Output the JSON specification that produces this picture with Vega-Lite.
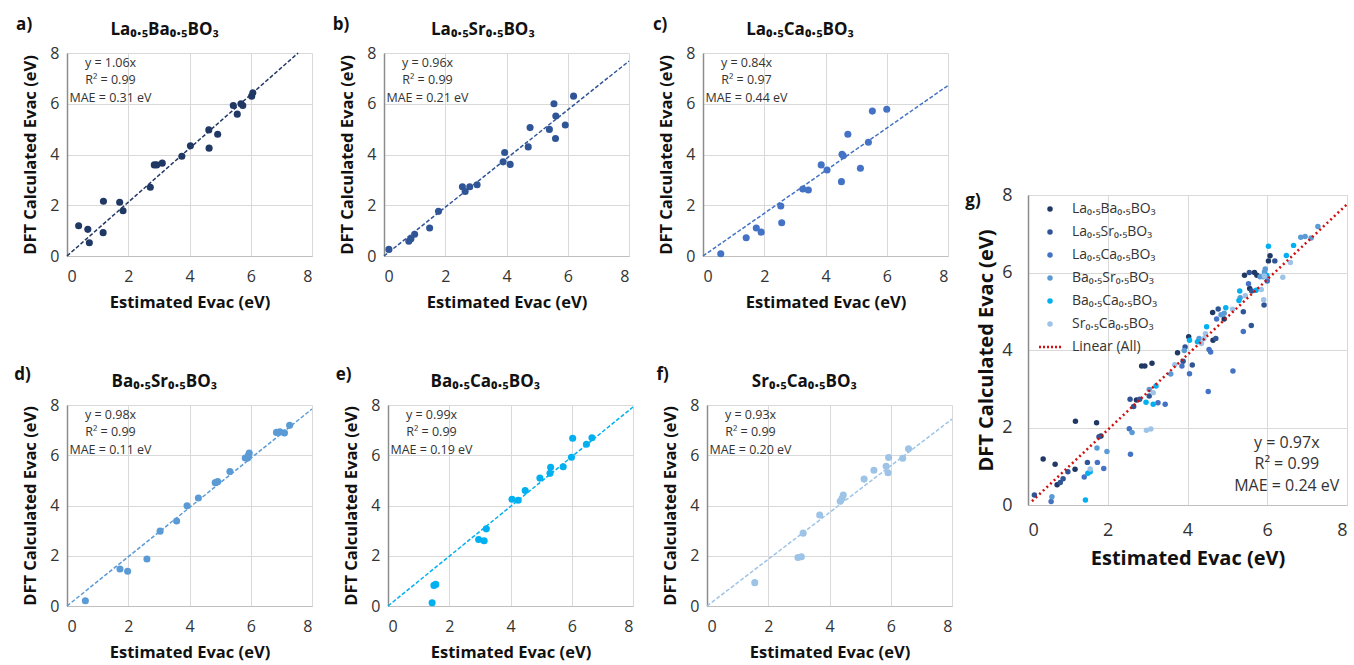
{
  "$schema": "https://vega.github.io/schema/vega-lite/v6.json",
  "background": "white",
  "padding": {"left": 14, "top": 16, "right": 0, "bottom": 0},
  "datasets": {
    "pts": [
      {"k":"a","x":0.38,"y":1.19},{"k":"a","x":0.68,"y":1.05},{"k":"a","x":0.73,"y":0.52},{"k":"a","x":1.19,"y":2.16},{"k":"a","x":1.18,"y":0.92},{"k":"a","x":1.72,"y":2.12},{"k":"a","x":1.83,"y":1.78},{"k":"a","x":2.72,"y":2.71},{"k":"a","x":2.85,"y":3.59},{"k":"a","x":2.93,"y":3.59},{"k":"a","x":3.11,"y":3.66},{"k":"a","x":3.75,"y":3.93},{"k":"a","x":4.03,"y":4.34},{"k":"a","x":4.63,"y":4.97},{"k":"a","x":4.64,"y":4.25},{"k":"a","x":4.92,"y":4.8},{"k":"a","x":5.43,"y":5.93},{"k":"a","x":5.56,"y":5.59},{"k":"a","x":5.68,"y":6.0},{"k":"a","x":5.74,"y":5.93},{"k":"a","x":6.03,"y":6.3},{"k":"a","x":6.07,"y":6.43},
      {"k":"b","x":0.16,"y":0.26},{"k":"b","x":0.81,"y":0.58},{"k":"b","x":0.88,"y":0.68},{"k":"b","x":1.0,"y":0.86},{"k":"b","x":1.49,"y":1.1},{"k":"b","x":1.78,"y":1.76},{"k":"b","x":2.56,"y":2.73},{"k":"b","x":2.65,"y":2.54},{"k":"b","x":2.8,"y":2.73},{"k":"b","x":3.04,"y":2.81},{"k":"b","x":3.89,"y":3.71},{"k":"b","x":3.94,"y":4.08},{"k":"b","x":4.12,"y":3.61},{"k":"b","x":4.71,"y":4.3},{"k":"b","x":4.77,"y":5.06},{"k":"b","x":5.4,"y":4.99},{"k":"b","x":5.55,"y":6.0},{"k":"b","x":5.61,"y":5.52},{"k":"b","x":5.6,"y":4.63},{"k":"b","x":5.92,"y":5.16},{"k":"b","x":6.19,"y":6.3},
      {"k":"c","x":0.58,"y":0.09},{"k":"c","x":1.41,"y":0.72},{"k":"c","x":1.74,"y":1.1},{"k":"c","x":1.9,"y":0.94},{"k":"c","x":2.54,"y":1.97},{"k":"c","x":2.57,"y":1.31},{"k":"c","x":3.26,"y":2.64},{"k":"c","x":3.44,"y":2.6},{"k":"c","x":3.86,"y":3.59},{"k":"c","x":4.05,"y":3.39},{"k":"c","x":4.52,"y":2.93},{"k":"c","x":4.54,"y":4.01},{"k":"c","x":4.58,"y":3.95},{"k":"c","x":4.73,"y":4.8},{"k":"c","x":5.14,"y":3.46},{"k":"c","x":5.4,"y":4.48},{"k":"c","x":5.53,"y":5.71},{"k":"c","x":6.0,"y":5.78},
      {"k":"d","x":0.6,"y":0.21},{"k":"d","x":1.73,"y":1.47},{"k":"d","x":1.98,"y":1.38},{"k":"d","x":2.61,"y":1.87},{"k":"d","x":3.04,"y":2.98},{"k":"d","x":3.58,"y":3.38},{"k":"d","x":3.92,"y":3.99},{"k":"d","x":4.29,"y":4.3},{"k":"d","x":4.84,"y":4.91},{"k":"d","x":4.92,"y":4.95},{"k":"d","x":5.32,"y":5.35},{"k":"d","x":5.82,"y":5.89},{"k":"d","x":5.9,"y":5.89},{"k":"d","x":5.93,"y":6.01},{"k":"d","x":5.95,"y":6.09},{"k":"d","x":6.84,"y":6.91},{"k":"d","x":6.95,"y":6.93},{"k":"d","x":7.1,"y":6.89},{"k":"d","x":7.27,"y":7.19},
      {"k":"e","x":1.44,"y":0.13},{"k":"e","x":1.5,"y":0.82},{"k":"e","x":1.56,"y":0.86},{"k":"e","x":2.96,"y":2.65},{"k":"e","x":3.14,"y":2.6},{"k":"e","x":3.21,"y":3.07},{"k":"e","x":4.05,"y":4.25},{"k":"e","x":4.25,"y":4.21},{"k":"e","x":4.48,"y":4.6},{"k":"e","x":4.96,"y":5.09},{"k":"e","x":5.29,"y":5.28},{"k":"e","x":5.31,"y":5.52},{"k":"e","x":5.72,"y":5.54},{"k":"e","x":5.99,"y":5.92},{"k":"e","x":6.03,"y":6.68},{"k":"e","x":6.48,"y":6.44},{"k":"e","x":6.66,"y":6.7},
      {"k":"f","x":1.56,"y":0.93},{"k":"f","x":2.97,"y":1.93},{"k":"f","x":3.08,"y":1.96},{"k":"f","x":3.14,"y":2.9},{"k":"f","x":3.68,"y":3.62},{"k":"f","x":4.35,"y":4.17},{"k":"f","x":4.41,"y":4.29},{"k":"f","x":4.45,"y":4.42},{"k":"f","x":5.13,"y":5.05},{"k":"f","x":5.45,"y":5.4},{"k":"f","x":5.85,"y":5.56},{"k":"f","x":5.91,"y":5.3},{"k":"f","x":5.93,"y":5.91},{"k":"f","x":6.39,"y":5.88},{"k":"f","x":6.58,"y":6.26}
    ],
    "lines": [
      {"k":"a","x":0,"y":0},{"k":"a","x":7.547,"y":8},
      {"k":"b","x":0,"y":0},{"k":"b","x":8,"y":7.68},
      {"k":"c","x":0,"y":0},{"k":"c","x":8,"y":6.72},
      {"k":"d","x":0,"y":0},{"k":"d","x":8,"y":7.84},
      {"k":"e","x":0,"y":0},{"k":"e","x":8,"y":7.92},
      {"k":"f","x":0,"y":0},{"k":"f","x":8,"y":7.44},
      {"k":"z","x":0.1,"y":0.097},{"k":"z","x":8,"y":7.76}
    ],
    "notes": [
      {"k":"a","x":1.42,"y":7.6,"t":"y = 1.06x"},{"k":"a","x":1.42,"y":6.92,"t":"R² = 0.99"},{"k":"a","x":1.42,"y":6.22,"t":"MAE = 0.31 eV"},
      {"k":"b","x":1.42,"y":7.6,"t":"y = 0.96x"},{"k":"b","x":1.42,"y":6.92,"t":"R² = 0.99"},{"k":"b","x":1.42,"y":6.22,"t":"MAE = 0.21 eV"},
      {"k":"c","x":1.42,"y":7.6,"t":"y = 0.84x"},{"k":"c","x":1.42,"y":6.92,"t":"R² = 0.97"},{"k":"c","x":1.42,"y":6.22,"t":"MAE = 0.44 eV"},
      {"k":"d","x":1.42,"y":7.6,"t":"y = 0.98x"},{"k":"d","x":1.42,"y":6.92,"t":"R² = 0.99"},{"k":"d","x":1.42,"y":6.22,"t":"MAE = 0.11 eV"},
      {"k":"e","x":1.42,"y":7.6,"t":"y = 0.99x"},{"k":"e","x":1.42,"y":6.92,"t":"R² = 0.99"},{"k":"e","x":1.42,"y":6.22,"t":"MAE = 0.19 eV"},
      {"k":"f","x":1.42,"y":7.6,"t":"y = 0.93x"},{"k":"f","x":1.42,"y":6.92,"t":"R² = 0.99"},{"k":"f","x":1.42,"y":6.22,"t":"MAE = 0.20 eV"},
      {"k":"g","x":6.49,"y":1.6,"t":"y = 0.97x"},{"k":"g","x":6.49,"y":1.06,"t":"R² = 0.99"},{"k":"g","x":6.49,"y":0.49,"t":"MAE = 0.24 eV"}
    ],
    "heads": [
      {"k":"a","x":-1.4,"y":9.1,"t":"a)"},{"k":"a","x":3.19,"y":8.9,"t":"La₀.₅Ba₀.₅BO₃"},
      {"k":"b","x":-1.4,"y":9.1,"t":"b)"},{"k":"b","x":3.23,"y":8.9,"t":"La₀.₅Sr₀.₅BO₃"},
      {"k":"c","x":-1.4,"y":9.1,"t":"c)"},{"k":"c","x":3.17,"y":8.9,"t":"La₀.₅Ca₀.₅BO₃"},
      {"k":"d","x":-1.45,"y":9.2,"t":"d)"},{"k":"d","x":3.18,"y":8.92,"t":"Ba₀.₅Sr₀.₅BO₃"},
      {"k":"e","x":-1.45,"y":9.2,"t":"e)"},{"k":"e","x":3.18,"y":8.92,"t":"Ba₀.₅Ca₀.₅BO₃"},
      {"k":"f","x":-1.45,"y":9.2,"t":"f)"},{"k":"f","x":3.18,"y":8.92,"t":"Sr₀.₅Ca₀.₅BO₃"},
      {"k":"g","x":-1.38,"y":7.85,"t":"g)"}
    ]
  },
  "config": {
    "font": "Open Sans",
    "view": {"stroke": null},
    "axis": {"grid": true, "gridColor": "#D9D9D9", "gridWidth": 1, "ticks": false, "labelFontSize": 16, "labelColor": "#333333", "titleFontSize": 16.5, "titleFontWeight": "bold", "titleColor": "#111111", "domainColor": "#BFBFBF"},
    "axisX": {"labelPadding": 12, "titlePadding": 10},
    "axisY": {"domainColor": "#8C8C8C", "domainWidth": 1.5, "labelPadding": 8, "titlePadding": 11}
  },
  "resolve": {"scale": {"color": "independent"}, "legend": {"color": "independent"}},
  "spacing": 10,
  "hconcat": [
    {
      "spacing": 54,
      "vconcat": [
        {
          "spacing": 20,
          "hconcat": [
            {"width": 245, "height": 203, "layer": [
              {"data": {"name": "lines"}, "transform": [{"filter": "datum.k=='a'"}], "mark": {"type": "line", "color": "#203864", "strokeDash": [4,2], "strokeWidth": 1.5}, "encoding": {"x": {"field": "x", "type": "quantitative", "scale": {"domain": [0,8], "nice": false}, "title": "Estimated Evac (eV)", "axis": {"values": [0,2,4,6,8]}}, "y": {"field": "y", "type": "quantitative", "scale": {"domain": [0,8], "nice": false}, "title": "DFT Calculated Evac (eV)", "axis": {"values": [0,2,4,6,8]}}}},
              {"data": {"name": "pts"}, "transform": [{"filter": "datum.k=='a'"}], "mark": {"type": "circle", "color": "#203864", "size": 50, "opacity": 1}, "encoding": {"x": {"field": "x", "type": "quantitative"}, "y": {"field": "y", "type": "quantitative"}}},
              {"data": {"name": "notes"}, "transform": [{"filter": "datum.k=='a'"}], "mark": {"type": "text", "fontSize": 12.5, "color": "#333333"}, "encoding": {"x": {"field": "x", "type": "quantitative"}, "y": {"field": "y", "type": "quantitative"}, "text": {"field": "t"}}},
              {"data": {"name": "heads"}, "transform": [{"filter": "datum.k=='a'"}], "mark": {"type": "text", "fontSize": 17, "fontWeight": "bold", "color": "#111111"}, "encoding": {"x": {"field": "x", "type": "quantitative"}, "y": {"field": "y", "type": "quantitative"}, "text": {"field": "t"}}}
            ]},
            {"width": 245, "height": 203, "layer": [
              {"data": {"name": "lines"}, "transform": [{"filter": "datum.k=='b'"}], "mark": {"type": "line", "color": "#2F5597", "strokeDash": [4,2], "strokeWidth": 1.5}, "encoding": {"x": {"field": "x", "type": "quantitative", "scale": {"domain": [0,8], "nice": false}, "title": "Estimated Evac (eV)", "axis": {"values": [0,2,4,6,8]}}, "y": {"field": "y", "type": "quantitative", "scale": {"domain": [0,8], "nice": false}, "title": "DFT Calculated Evac (eV)", "axis": {"values": [0,2,4,6,8]}}}},
              {"data": {"name": "pts"}, "transform": [{"filter": "datum.k=='b'"}], "mark": {"type": "circle", "color": "#2F5597", "size": 50, "opacity": 1}, "encoding": {"x": {"field": "x", "type": "quantitative"}, "y": {"field": "y", "type": "quantitative"}}},
              {"data": {"name": "notes"}, "transform": [{"filter": "datum.k=='b'"}], "mark": {"type": "text", "fontSize": 12.5, "color": "#333333"}, "encoding": {"x": {"field": "x", "type": "quantitative"}, "y": {"field": "y", "type": "quantitative"}, "text": {"field": "t"}}},
              {"data": {"name": "heads"}, "transform": [{"filter": "datum.k=='b'"}], "mark": {"type": "text", "fontSize": 17, "fontWeight": "bold", "color": "#111111"}, "encoding": {"x": {"field": "x", "type": "quantitative"}, "y": {"field": "y", "type": "quantitative"}, "text": {"field": "t"}}}
            ]},
            {"width": 245, "height": 203, "layer": [
              {"data": {"name": "lines"}, "transform": [{"filter": "datum.k=='c'"}], "mark": {"type": "line", "color": "#4472C4", "strokeDash": [4,2], "strokeWidth": 1.5}, "encoding": {"x": {"field": "x", "type": "quantitative", "scale": {"domain": [0,8], "nice": false}, "title": "Estimated Evac (eV)", "axis": {"values": [0,2,4,6,8]}}, "y": {"field": "y", "type": "quantitative", "scale": {"domain": [0,8], "nice": false}, "title": "DFT Calculated Evac (eV)", "axis": {"values": [0,2,4,6,8]}}}},
              {"data": {"name": "pts"}, "transform": [{"filter": "datum.k=='c'"}], "mark": {"type": "circle", "color": "#4472C4", "size": 50, "opacity": 1}, "encoding": {"x": {"field": "x", "type": "quantitative"}, "y": {"field": "y", "type": "quantitative"}}},
              {"data": {"name": "notes"}, "transform": [{"filter": "datum.k=='c'"}], "mark": {"type": "text", "fontSize": 12.5, "color": "#333333"}, "encoding": {"x": {"field": "x", "type": "quantitative"}, "y": {"field": "y", "type": "quantitative"}, "text": {"field": "t"}}},
              {"data": {"name": "heads"}, "transform": [{"filter": "datum.k=='c'"}], "mark": {"type": "text", "fontSize": 17, "fontWeight": "bold", "color": "#111111"}, "encoding": {"x": {"field": "x", "type": "quantitative"}, "y": {"field": "y", "type": "quantitative"}, "text": {"field": "t"}}}
            ]}
          ]
        },
        {
          "spacing": 20,
          "hconcat": [
            {"width": 245, "height": 201, "layer": [
              {"data": {"name": "lines"}, "transform": [{"filter": "datum.k=='d'"}], "mark": {"type": "line", "color": "#5B9BD5", "strokeDash": [4,2], "strokeWidth": 1.5}, "encoding": {"x": {"field": "x", "type": "quantitative", "scale": {"domain": [0,8], "nice": false}, "title": "Estimated Evac (eV)", "axis": {"values": [0,2,4,6,8]}}, "y": {"field": "y", "type": "quantitative", "scale": {"domain": [0,8], "nice": false}, "title": "DFT Calculated Evac (eV)", "axis": {"values": [0,2,4,6,8]}}}},
              {"data": {"name": "pts"}, "transform": [{"filter": "datum.k=='d'"}], "mark": {"type": "circle", "color": "#5B9BD5", "size": 50, "opacity": 1}, "encoding": {"x": {"field": "x", "type": "quantitative"}, "y": {"field": "y", "type": "quantitative"}}},
              {"data": {"name": "notes"}, "transform": [{"filter": "datum.k=='d'"}], "mark": {"type": "text", "fontSize": 12.5, "color": "#333333"}, "encoding": {"x": {"field": "x", "type": "quantitative"}, "y": {"field": "y", "type": "quantitative"}, "text": {"field": "t"}}},
              {"data": {"name": "heads"}, "transform": [{"filter": "datum.k=='d'"}], "mark": {"type": "text", "fontSize": 17, "fontWeight": "bold", "color": "#111111"}, "encoding": {"x": {"field": "x", "type": "quantitative"}, "y": {"field": "y", "type": "quantitative"}, "text": {"field": "t"}}}
            ]},
            {"width": 245, "height": 201, "layer": [
              {"data": {"name": "lines"}, "transform": [{"filter": "datum.k=='e'"}], "mark": {"type": "line", "color": "#00B0F0", "strokeDash": [4,2], "strokeWidth": 1.5}, "encoding": {"x": {"field": "x", "type": "quantitative", "scale": {"domain": [0,8], "nice": false}, "title": "Estimated Evac (eV)", "axis": {"values": [0,2,4,6,8]}}, "y": {"field": "y", "type": "quantitative", "scale": {"domain": [0,8], "nice": false}, "title": "DFT Calculated Evac (eV)", "axis": {"values": [0,2,4,6,8]}}}},
              {"data": {"name": "pts"}, "transform": [{"filter": "datum.k=='e'"}], "mark": {"type": "circle", "color": "#00B0F0", "size": 50, "opacity": 1}, "encoding": {"x": {"field": "x", "type": "quantitative"}, "y": {"field": "y", "type": "quantitative"}}},
              {"data": {"name": "notes"}, "transform": [{"filter": "datum.k=='e'"}], "mark": {"type": "text", "fontSize": 12.5, "color": "#333333"}, "encoding": {"x": {"field": "x", "type": "quantitative"}, "y": {"field": "y", "type": "quantitative"}, "text": {"field": "t"}}},
              {"data": {"name": "heads"}, "transform": [{"filter": "datum.k=='e'"}], "mark": {"type": "text", "fontSize": 17, "fontWeight": "bold", "color": "#111111"}, "encoding": {"x": {"field": "x", "type": "quantitative"}, "y": {"field": "y", "type": "quantitative"}, "text": {"field": "t"}}}
            ]},
            {"width": 245, "height": 201, "layer": [
              {"data": {"name": "lines"}, "transform": [{"filter": "datum.k=='f'"}], "mark": {"type": "line", "color": "#9DC3E6", "strokeDash": [4,2], "strokeWidth": 1.5}, "encoding": {"x": {"field": "x", "type": "quantitative", "scale": {"domain": [0,8], "nice": false}, "title": "Estimated Evac (eV)", "axis": {"values": [0,2,4,6,8]}}, "y": {"field": "y", "type": "quantitative", "scale": {"domain": [0,8], "nice": false}, "title": "DFT Calculated Evac (eV)", "axis": {"values": [0,2,4,6,8]}}}},
              {"data": {"name": "pts"}, "transform": [{"filter": "datum.k=='f'"}], "mark": {"type": "circle", "color": "#9DC3E6", "size": 50, "opacity": 1}, "encoding": {"x": {"field": "x", "type": "quantitative"}, "y": {"field": "y", "type": "quantitative"}}},
              {"data": {"name": "notes"}, "transform": [{"filter": "datum.k=='f'"}], "mark": {"type": "text", "fontSize": 12.5, "color": "#333333"}, "encoding": {"x": {"field": "x", "type": "quantitative"}, "y": {"field": "y", "type": "quantitative"}, "text": {"field": "t"}}},
              {"data": {"name": "heads"}, "transform": [{"filter": "datum.k=='f'"}], "mark": {"type": "text", "fontSize": 17, "fontWeight": "bold", "color": "#111111"}, "encoding": {"x": {"field": "x", "type": "quantitative"}, "y": {"field": "y", "type": "quantitative"}, "text": {"field": "t"}}}
            ]}
          ]
        }
      ]
    },
    {
      "spacing": 0,
      "resolve": {"scale": {"color": "independent"}, "legend": {"color": "independent"}},
      "vconcat": [
        {"width": 10, "height": 133, "data": {"values": [{}]}, "mark": {"type": "text"}, "encoding": {}},
        {"width": 319, "height": 310, "layer": [
          {"data": {"name": "pts"}, "mark": {"type": "circle", "size": 30, "opacity": 1}, "encoding": {
            "x": {"field": "x", "type": "quantitative", "scale": {"domain": [0,8], "nice": false}, "title": "Estimated Evac (eV)", "axis": {"values": [0,2,4,6,8], "titleFontSize": 20, "labelFontSize": 18, "labelPadding": 16, "titlePadding": 9}},
            "y": {"field": "y", "type": "quantitative", "scale": {"domain": [0,8], "nice": false}, "title": "DFT Calculated Evac (eV)", "axis": {"values": [0,2,4,6,8], "titleFontSize": 20, "labelFontSize": 18, "labelPadding": 16, "titlePadding": 5}},
            "color": {"field": "k", "type": "nominal", "scale": {"domain": ["a","b","c","d","e","f","z"], "range": ["#203864","#2F5597","#4472C4","#5B9BD5","#00B0F0","#9DC3E6","#D01010"]}, "legend": {
              "title": null, "orient": "top-left", "offset": 7, "labelFontSize": 14, "rowPadding": 9, "labelOffset": 15, "symbolOffset": 8, "labelColor": "#333333", "symbolOpacity": 1,
              "symbolType": {"expr": "datum.value === 'z' ? 'stroke' : 'circle'"},
              "symbolSize": {"expr": "datum.value === 'z' ? 484 : 30"},
              "symbolStrokeColor": {"expr": "datum.value === 'z' ? '#D01010' : 'transparent'"},
              "symbolStrokeWidth": {"expr": "datum.value === 'z' ? 2.5 : 0"},
              "symbolDash": {"expr": "datum.value === 'z' ? [2,2] : [1,0]"},
              "labelExpr": "({'a':'La₀.₅Ba₀.₅BO₃','b':'La₀.₅Sr₀.₅BO₃','c':'La₀.₅Ca₀.₅BO₃','d':'Ba₀.₅Sr₀.₅BO₃','e':'Ba₀.₅Ca₀.₅BO₃','f':'Sr₀.₅Ca₀.₅BO₃','z':'Linear (All)'})[datum.label]"
            }}
          }},
          {"data": {"name": "lines"}, "transform": [{"filter": "datum.k=='z'"}], "mark": {"type": "line", "strokeDash": [2,3], "strokeWidth": 2.5, "color": "#D01010"}, "encoding": {
            "x": {"field": "x", "type": "quantitative"},
            "y": {"field": "y", "type": "quantitative"}
          }},
          {"data": {"name": "notes"}, "transform": [{"filter": "datum.k=='g'"}], "mark": {"type": "text", "fontSize": 16, "color": "#333333"}, "encoding": {"x": {"field": "x", "type": "quantitative"}, "y": {"field": "y", "type": "quantitative"}, "text": {"field": "t"}}},
          {"data": {"name": "heads"}, "transform": [{"filter": "datum.k=='g'"}], "mark": {"type": "text", "fontSize": 17, "fontWeight": "bold", "color": "#111111"}, "encoding": {"x": {"field": "x", "type": "quantitative"}, "y": {"field": "y", "type": "quantitative"}, "text": {"field": "t"}}}
        ]}
      ]
    }
  ]
}
